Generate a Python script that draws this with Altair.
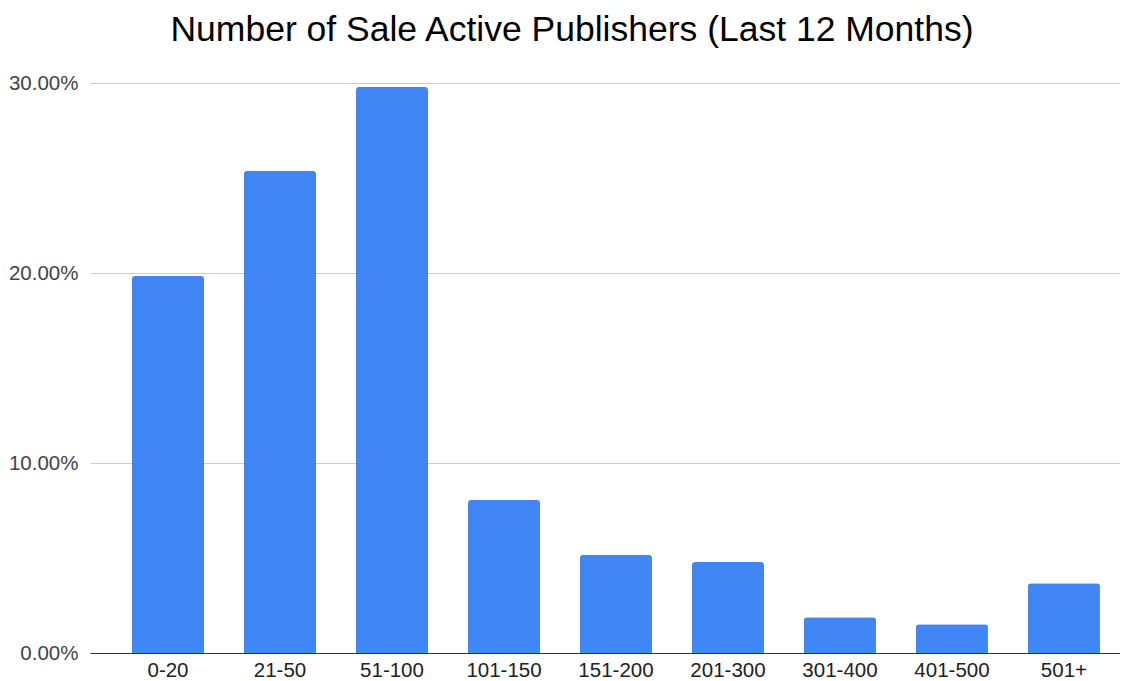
import altair as alt
import pandas as pd

categories = ["0-20", "21-50", "51-100", "101-150", "151-200", "201-300", "301-400", "401-500", "501+"]
shares = [0.1984, 0.2537, 0.2979, 0.0805, 0.0516, 0.0479, 0.0188, 0.0151, 0.0367]

df = pd.DataFrame({"range": categories, "share": shares})

FONT = "Liberation Sans"

chart = alt.Chart(df).mark_bar(
    color="#4285F4", cornerRadiusTopLeft=3, cornerRadiusTopRight=3
).encode(
    x=alt.X("range:N", sort=categories, title=None,
            scale=alt.Scale(paddingInner=0.357, paddingOuter=0.277, align=0.677),
            axis=alt.Axis(labelAngle=0, labelFontSize=20.5, labelColor="#222222",
                          labelFont=FONT, ticks=False, tickSize=0, domainColor="#333333",
                          domainWidth=1, labelPadding=7, grid=False)),
    y=alt.Y("share:Q", title=None,
            scale=alt.Scale(domain=[0, 0.30], nice=False),
            axis=alt.Axis(format=".2%", values=[0, 0.1, 0.2, 0.3], labelFontSize=20.5,
                          labelColor="#444444", labelFont=FONT, ticks=False, tickSize=0,
                          domain=False, gridColor="#cccccc", labelPadding=12)),
).properties(
    width=1030,
    height=570,
    title=alt.TitleParams("Number of Sale Active Publishers (Last 12 Months)",
                          fontSize=35.5, font=FONT, fontWeight="normal",
                          color="#000000", anchor="middle", offset=25, dx=-33),
    padding={"left": 0, "right": 0, "top": 4, "bottom": 0},
).configure_view(stroke=None)

chart.save("out.html", embed_options={"renderer": "svg", "actions": False})
